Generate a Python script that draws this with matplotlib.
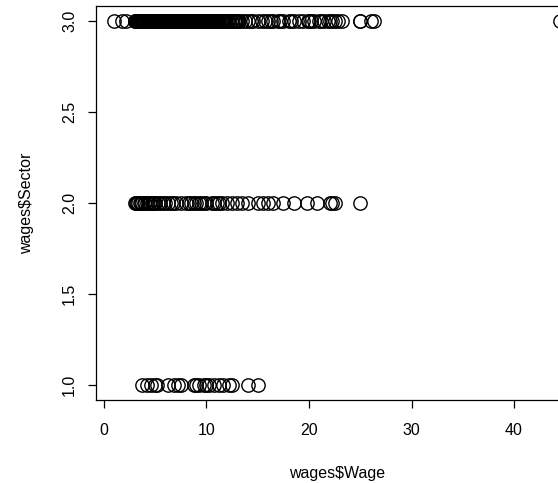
import matplotlib
matplotlib.use("Agg")
import matplotlib.pyplot as plt

# wages by sector
sector1_wage = [3.75, 4.2, 4.6, 5.0, 5.2, 6.2, 6.8, 7.2, 7.5, 8.8, 9.0, 9.3, 9.8,
                10.0, 10.2, 10.7, 11.2, 11.6, 12.2, 12.5, 14.0, 15.0]
sector2_wage = [3.0, 3.1, 3.2, 3.35, 3.5, 3.65, 3.75, 3.9, 4.0, 4.2, 4.35, 4.5,
                4.65, 4.75, 4.9, 5.0, 5.25, 5.5, 5.75, 6.0, 6.25, 6.5, 6.75, 7.0,
                7.5, 8.0, 8.25, 8.5, 8.75, 9.0, 9.25, 9.5, 9.75, 10.0, 10.5, 10.75,
                11.0, 11.25, 11.5, 12.0, 12.5, 13.0, 13.5, 14.0, 15.0, 15.5, 16.0,
                16.5, 17.5, 18.5, 19.8, 20.8, 22.0, 22.2, 22.5, 25.0]
sector3_wage = [1.0, 1.75, 2.1, 3.0, 3.1, 3.25, 3.35, 3.4, 3.5, 3.6, 3.65, 3.75,
                3.8, 3.9, 4.0, 4.1, 4.15, 4.25, 4.35, 4.45, 4.5, 4.6, 4.75, 4.85,
                5.0, 5.1, 5.2, 5.3, 5.4, 5.5, 5.6, 5.65, 5.75, 5.85, 6.0, 6.1,
                6.25, 6.35, 6.5, 6.6, 6.75, 6.85, 6.88, 7.0, 7.14, 7.25, 7.35, 7.5,
                7.6, 7.7, 7.8, 7.9, 8.0, 8.1, 8.25, 8.4, 8.5, 8.6, 8.75, 8.9, 9.0,
                9.15, 9.25, 9.4, 9.5, 9.6, 9.75, 9.85, 10.0, 10.1, 10.25, 10.4,
                10.5, 10.6, 10.75, 11.0, 11.1, 11.25, 11.5, 11.6, 11.75, 12.0,
                12.2, 12.5, 12.65, 12.9, 13.0, 13.2, 13.5, 13.75, 14.0, 14.3, 14.5,
                15.0, 15.4, 15.7, 16.0, 16.3, 16.5, 17.0, 17.2, 17.5, 18.0, 18.2,
                18.5, 19.0, 19.4, 19.9, 20.0, 20.2, 20.5, 21.0, 21.2, 21.5, 21.9,
                22.0, 22.2, 22.5, 22.8, 23.25, 24.98, 25.0, 26.0, 26.3, 44.5,
                3.05, 3.2, 3.3, 3.45, 3.55, 3.7, 3.85, 3.95, 4.05, 4.2, 4.3, 4.4,
                4.55, 4.7, 4.8, 4.95, 5.05, 5.15, 5.25, 5.35, 5.45, 5.55, 5.7,
                5.8, 5.95, 6.05, 6.2, 6.3, 6.45, 6.55, 6.7, 6.8, 6.95, 7.05, 7.2,
                7.3, 7.45, 7.55, 7.65, 7.75, 7.85, 7.95, 8.05, 8.2, 8.3, 8.45,
                8.55, 8.7, 8.8, 8.95, 9.1, 9.2, 9.35, 9.45, 9.55, 9.7, 9.8, 9.95,
                10.05, 10.2, 10.35, 10.45, 10.55, 10.7, 10.85, 10.95, 11.05,
                11.4, 11.8, 12.1, 12.35, 12.75, 13.1]

wage = sector1_wage + sector2_wage + sector3_wage
sector = [1] * len(sector1_wage) + [2] * len(sector2_wage) + [3] * len(sector3_wage)

x_ticks = [0, 10, 20, 30, 40]
y_ticks = [1.0, 1.5, 2.0, 2.5, 3.0]

plt.rcParams["font.family"] = ["Liberation Sans", "DejaVu Sans"]
plt.rcParams["font.size"] = 11.5

W, H = 558, 483
fig = plt.figure(figsize=(W / 100, H / 100), dpi=100)
# plot region runs past the right edge of the image, like the reference
left, right, top, bottom = 96.4, 578, 6.4, 399.6
ax = fig.add_axes([left / W, (H - bottom) / H, (right - left) / W, (bottom - top) / H])

ax.plot(wage, sector, "o", markersize=9.6, markerfacecolor="none",
        markeredgecolor="black", markeredgewidth=1.0, clip_on=False)

ax.set_xlim(-0.74, 46.24)
ax.set_ylim(0.92, 3.08)
ax.set_xticks(x_ticks)
ax.set_yticks(y_ticks)
ax.set_yticklabels([f"{v:.1f}" for v in y_ticks], rotation=90, va="center")
ax.tick_params(direction="out", length=5.8, width=0.9, color="black")
ax.tick_params(axis="x", pad=11)
ax.tick_params(axis="y", pad=8)
for s in ax.spines.values():
    s.set_linewidth(0.9)

ax.set_xlabel("wages$Wage", labelpad=20)
ax.set_ylabel("wages$Sector", labelpad=20)

fig.savefig("out.png", dpi=100)
